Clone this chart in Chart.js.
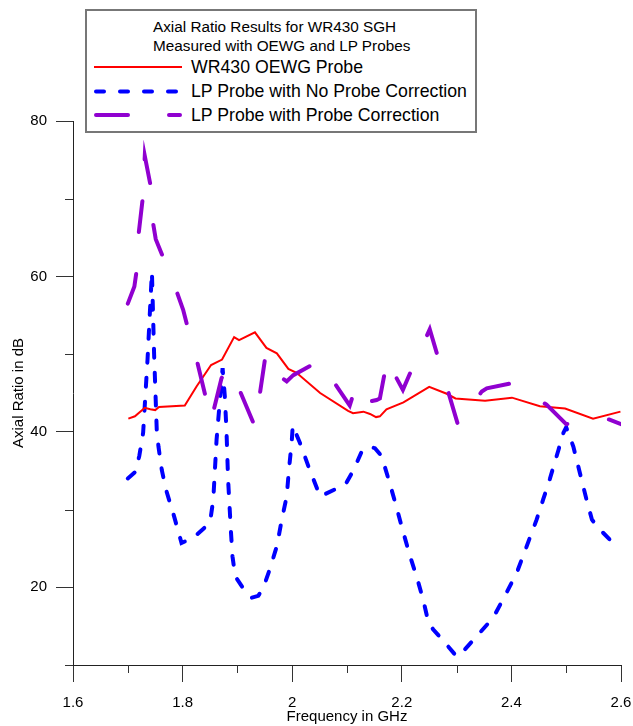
<!DOCTYPE html>
<html><head><meta charset="utf-8">
<script src="https://cdn.jsdelivr.net/npm/chart.js@4/dist/chart.umd.min.js"></script>
<style>
html,body{margin:0;padding:0;background:#fff;}
#wrap{position:relative;width:633px;height:726px;overflow:hidden;font-family:'Liberation Sans',Arial,sans-serif;color:#000;}
#c{position:absolute;left:0;top:0;}
#lbox{position:absolute;left:85px;top:9px;width:392px;height:124px;box-sizing:border-box;border:2px solid #777;background:#fff;}
#lsvg{position:absolute;left:0;top:0;}
.t{position:absolute;white-space:nowrap;line-height:20px;}
.h{font-size:15.3px;left:153px;}
.i{font-size:17.7px;left:191px;}
</style></head>
<body>
<div id="wrap">
<canvas id="c" width="633" height="726"></canvas>
<div id="lbox"></div>
<svg id="lsvg" width="633" height="140">
  <line x1="94" y1="67" x2="182" y2="67" stroke="#ff0000" stroke-width="2"/>
  <line x1="96" y1="91.5" x2="178" y2="91.5" stroke="#0000ff" stroke-width="4" stroke-linecap="round" stroke-dasharray="8 16"/>
  <line x1="96" y1="115" x2="180" y2="115" stroke="#9000d0" stroke-width="4" stroke-linecap="round" stroke-dasharray="32 41"/>
</svg>
<div class="t h" style="top:17px">Axial Ratio Results for WR430 SGH</div>
<div class="t h" style="top:36px">Measured with OEWG and LP Probes</div>
<div class="t i" style="top:57px">WR430 OEWG Probe</div>
<div class="t i" style="top:81px">LP Probe with No Probe Correction</div>
<div class="t i" style="top:105px">LP Probe with Probe Correction</div>
</div>
<script>
// ---- data ----
const freqOEWG = [1.701,1.713,1.731,1.741,1.750,1.757,1.804,1.826,1.852,1.872,1.894,1.903,1.932,1.953,1.972,1.993,2.008,2.051,2.102,2.111,2.130,2.142,2.153,2.160,2.172,2.203,2.250,2.282,2.298,2.352,2.401,2.452,2.498,2.549,2.599];
const arOEWG   = [41.7,42.0,43.1,42.9,42.8,43.2,43.4,45.9,48.6,49.3,52.2,51.8,52.8,50.8,50.1,48.1,47.6,45.0,42.7,42.4,42.6,42.3,41.9,42.0,42.9,43.8,45.8,44.9,44.3,44.0,44.4,43.3,43.0,41.7,42.6];

const freqNoCorr = [1.700,1.713,1.721,1.728,1.736,1.744,1.748,1.753,1.756,1.762,1.770,1.785,1.798,1.820,1.850,1.856,1.862,1.873,1.877,1.880,1.883,1.888,1.891,1.896,1.914,1.926,1.938,1.947,1.959,1.972,1.981,1.990,1.994,1.999,2.001,2.014,2.032,2.051,2.078,2.097,2.112,2.127,2.139,2.151,2.163,2.175,2.188,2.203,2.215,2.227,2.239,2.248,2.257,2.276,2.300,2.315,2.343,2.367,2.391,2.410,2.428,2.446,2.458,2.470,2.486,2.495,2.500,2.513,2.525,2.537,2.547,2.562,2.580,2.591];
const arNoCorr   = [34.0,34.8,36.9,39.9,49.3,60.6,50.0,39.9,38.1,35.1,32.5,29.0,25.7,26.4,28.3,31.3,39.0,48.2,44.6,40.3,33.9,27.4,24.0,21.4,19.5,18.65,18.9,19.9,22.3,25.3,28.7,31.7,35.1,38.6,40.8,38.6,35.1,31.7,32.6,33.2,35.1,37.5,38.1,37.9,36.9,34.1,30.9,27.0,24.0,21.4,18.4,15.65,14.6,13.1,11.1,12.0,14.2,16.1,19.3,21.9,25.3,28.7,31.3,33.9,37.7,39.9,40.6,38.1,34.7,31.3,28.7,27.4,26.1,25.1];

const freqCorr = [1.700,1.712,1.716,1.720,1.727,1.731,1.741,1.746,1.751,1.763,1.789,1.801,1.808,1.826,1.841,1.847,1.856,1.871,1.883,1.905,1.930,1.933,1.941,1.950,1.959,1.980,1.990,2.002,2.033,2.043,2.077,2.102,2.105,2.118,2.141,2.154,2.160,2.168,2.179,2.189,2.202,2.216,2.251,2.303,2.346,2.355,2.404,2.464,2.500,2.510,2.574,2.600];
const arCorr   = [56.5,58.7,60.7,65.6,69.9,75.5,71.9,66.9,64.8,62.7,58.1,55.7,53.8,49.2,44.8,41.4,42.6,46.9,48.4,45.2,41.0,40.6,44.9,49.2,50.3,47.0,46.5,47.3,48.5,49.3,46.3,43.7,43.4,46.3,43.9,44.1,44.3,47.3,49.6,47.1,45.4,47.7,53.2,40.8,45.2,45.6,46.3,43.5,41.0,41.1,41.7,41.0];

const xTickLabels = ['1.6','1.8','2','2.2','2.4','2.6'];
const yTickLabels = ['20','40','60','80'];
const seriesNames = ['WR430 OEWG Probe','LP Probe with No Probe Correction','LP Probe with Probe Correction'];

// ---- helpers ----
const pts = (xs, ys) => xs.map((x, i) => ({x: x, y: ys[i]}));
const xMajor = v => xTickLabels.includes(String(Math.round(v * 10) / 10));
const yMajor = v => yTickLabels.includes(String(Math.round(v)));

const FONT = "'Liberation Sans', Arial, sans-serif";
Chart.defaults.font.family = FONT;
Chart.defaults.color = '#000';

const minorTicks = {
  id: 'minorTicks',
  afterDraw(chart) {
    const ctx = chart.ctx, xs = chart.scales.x, ys = chart.scales.y;
    ctx.save();
    ctx.strokeStyle = '#333';
    ctx.lineWidth = 1;
    xs.ticks.forEach(t => {
      if (!xMajor(t.value)) {
        const p = Math.round(xs.getPixelForValue(t.value)) + 0.5;
        ctx.beginPath(); ctx.moveTo(p, xs.top); ctx.lineTo(p, xs.top + 8); ctx.stroke();
      }
    });
    ys.ticks.forEach(t => {
      if (!yMajor(t.value)) {
        const p = Math.round(ys.getPixelForValue(t.value)) + 0.5;
        ctx.beginPath(); ctx.moveTo(ys.right - 8, p); ctx.lineTo(ys.right, p); ctx.stroke();
      }
    });
    ctx.restore();
  }
};

new Chart(document.getElementById('c'), {
  type: 'line',
  data: {
    datasets: [
      {label: seriesNames[2], data: pts(freqCorr, arCorr), borderColor: '#9000d0', borderWidth: 4,
       borderDash: [31, 42], borderCapStyle: 'round', pointRadius: 0, tension: 0, order: 0},
      {label: seriesNames[0], data: pts(freqOEWG, arOEWG), borderColor: '#ff0000', borderWidth: 2,
       pointRadius: 0, tension: 0, order: 1},
      {label: seriesNames[1], data: pts(freqNoCorr, arNoCorr), borderColor: '#0000ff', borderWidth: 4,
       borderDash: [9, 15], borderCapStyle: 'round', pointRadius: 0, tension: 0, order: 2}
    ]
  },
  options: {
    responsive: false,
    animation: false,
    layout: {autoPadding: false, padding: {top: 121, right: 12, left: 0, bottom: 0}},
    plugins: {legend: {display: false}, tooltip: {enabled: false}},
    scales: {
      x: {
        type: 'linear', min: 1.6, max: 2.6,
        afterFit: s => { s.height = 61; s.paddingLeft = 0; s.paddingRight = 0; },
        ticks: {stepSize: 0.1, autoSkip: false, maxRotation: 0, padding: 12, font: {size: 15},
          callback: v => xMajor(v) ? xTickLabels[xTickLabels.indexOf(String(Math.round(v * 10) / 10))] : ''},
        grid: {display: true, drawOnChartArea: false, drawTicks: true, tickLength: 17,
          tickColor: c => (c.tick && xMajor(c.tick.value)) ? '#333' : 'rgba(0,0,0,0)'},
        border: {display: true, color: '#222', width: 1},
        title: {display: true, text: 'Frequency in GHz', font: {size: 15}, padding: {top: 0, bottom: 0}}
      },
      y: {
        type: 'linear', min: 10, max: 80,
        afterFit: s => { s.width = 73; s.paddingTop = 0; s.paddingBottom = 0; },
        ticks: {stepSize: 10, autoSkip: false, padding: 9, font: {size: 15},
          callback: v => yMajor(v) ? yTickLabels[yTickLabels.indexOf(String(Math.round(v)))] : ''},
        grid: {display: true, drawOnChartArea: false, drawTicks: true, tickLength: 17,
          tickColor: c => (c.tick && yMajor(c.tick.value)) ? '#333' : 'rgba(0,0,0,0)'},
        border: {display: true, color: '#222', width: 1},
        title: {display: true, text: 'Axial Ratio in dB', font: {size: 15}, padding: {top: 10, bottom: 0}}
      }
    }
  },
  plugins: [minorTicks]
});
</script>
</body></html>
